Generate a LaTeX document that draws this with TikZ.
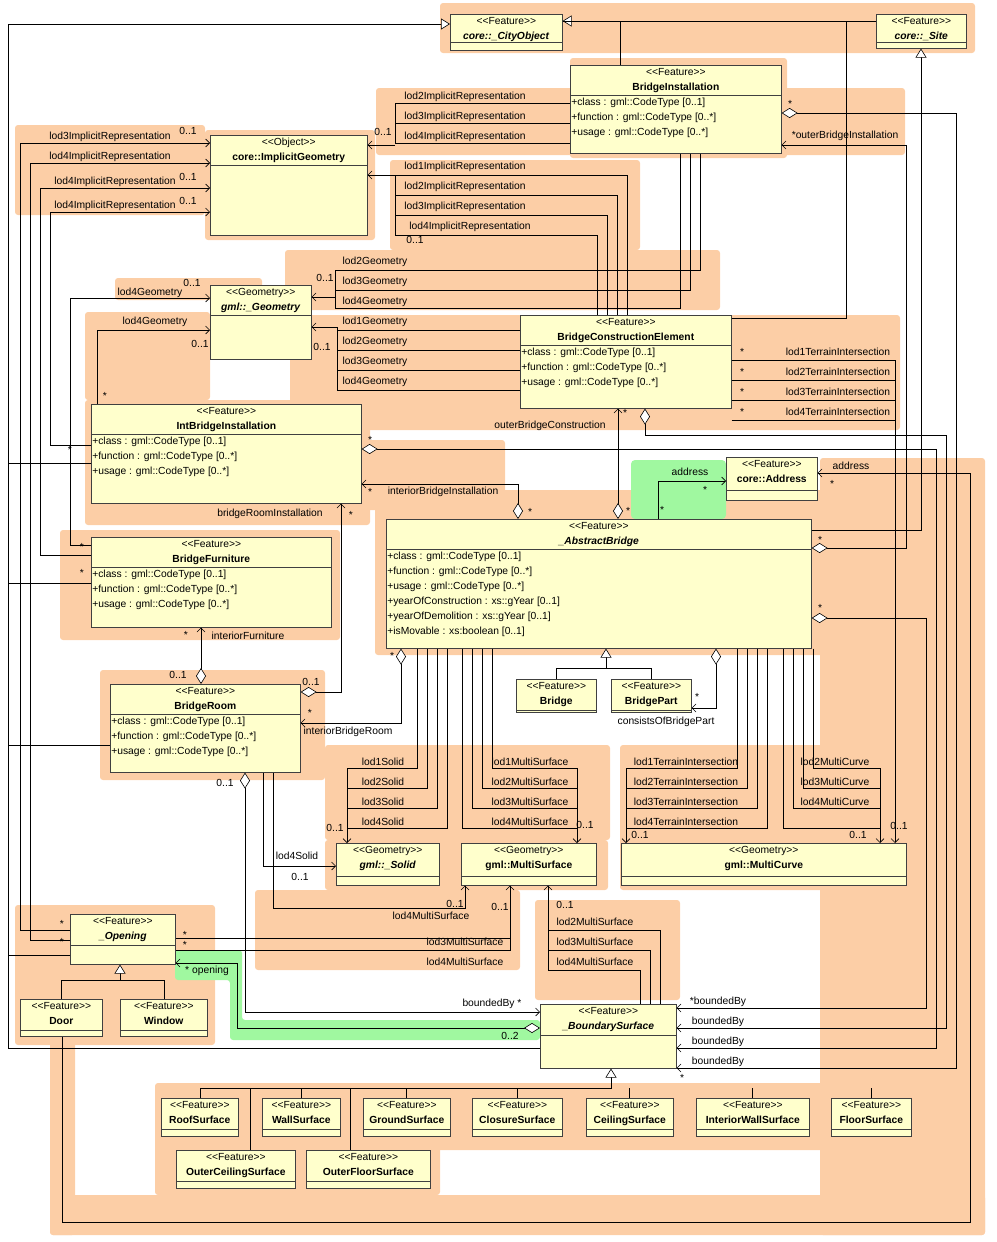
\documentclass[tikz,border=0pt]{standalone}
\usepackage{fontspec}
\setmainfont{Liberation Sans}
\usetikzlibrary{arrows.meta}
\definecolor{clsfill}{RGB}{255,255,204}
\definecolor{peach}{RGB}{252,206,166}
\definecolor{mint}{RGB}{160,248,160}
\tikzset{
  cls/.style={draw=black!75,fill=clsfill,inner sep=0pt},
  lbl/.style={font=\fontsize{10.3}{15}\selectfont,inner sep=1pt},
  nav/.style={-{Straight Barb[length=4pt,width=8pt]}},
  gen/.style={-{Triangle[open,fill=white,length=9pt,width=11pt]}},
  aggnav/.style={{Diamond[open,fill=white,length=16pt,width=10pt]}-{Straight Barb[length=4pt,width=8pt]}}
}
% box, stereotype, name and attribute lines of one class
\newcommand\umlclass[9]{%
  \node[cls,anchor=north west,minimum width=#4pt,minimum height=#5pt] (#1) at (#2,#3) {};
  \node[lbl,anchor=north,align=center] (#1-h) at ([yshift=-2pt]#1.north) {<{}<#7>{}>\\ \textbf{#8}};
  \draw[black!75] ([yshift=-#6pt]#1.north west) -- ([yshift=-#6pt]#1.north east);
  \node[lbl,anchor=north west,align=left] (#1-a) at ([yshift=-#6pt-2pt]#1.north west) {#9};
}
\begin{document}
\begin{tikzpicture}[x=1pt,y=-1pt,line width=0.6pt]
\useasboundingbox (0,0) rectangle (996,1242);
% coloured areas
\foreach \a/\b/\c/\d in {440/3/975/53,570/58/787/158,376/88/905/155,15/125/205/215,205/130/375/240,
  390/160/640/250,285/250/720/310,115/278/262/300,85/312/210/400,290/315/900/430,85/400/370/525,
  360/440/505/510,375/490/830/655,820/458/985/1235,50/1195/985/1235,50/1040/75/1235,60/530/340/640,
  100/670/325/780,325/745/610/840,620/745/910/890,325/840/608/890,255/890/520/970,535/900/680/1000,
  15/905/215/1045,155/1083/920/1150,155/1145/440/1195}
  \fill[peach,rounded corners=3pt] (\a,\b) rectangle (\c,\d);
\fill[mint,rounded corners=4pt] (631,460) rectangle (726,519);
\fill[mint,rounded corners=3pt] (175,950) -- (242,950) -- (242,1020) -- (540,1020) -- (540,1040) -- (230,1040) -- (230,980) -- (175,980) -- cycle;

\umlclass{CO}{450}{14}{112}{36}{28}{Feature}{\textit{core::\_CityObject}}{}
\umlclass{Site}{876}{14}{90}{34}{28}{Feature}{\textit{core::\_Site}}{}
\umlclass{BI}{570}{65}{211}{88}{30}{Feature}{BridgeInstallation}{+class : gml::CodeType [0..1]\\+function : gml::CodeType [0..*]\\+usage : gml::CodeType [0..*]}
\umlclass{IG}{210}{135}{157}{100}{30}{Object}{core::ImplicitGeometry}{}
\umlclass{Geo}{210}{285}{101}{74}{30}{Geometry}{\textit{gml::\_Geometry}}{}
\umlclass{BCE}{520}{315}{211}{93}{30}{Feature}{BridgeConstructionElement}{+class : gml::CodeType [0..1]\\+function : gml::CodeType [0..*]\\+usage : gml::CodeType [0..*]}
\umlclass{IBI}{91}{404}{270}{99}{30}{Feature}{IntBridgeInstallation}{+class : gml::CodeType [0..1]\\+function : gml::CodeType [0..*]\\+usage : gml::CodeType [0..*]}
\umlclass{Addr}{726}{457}{91}{43}{33}{Feature}{core::Address}{}
\umlclass{AB}{386}{519}{425}{129}{30}{Feature}{\textit{\_AbstractBridge}}{+class : gml::CodeType [0..1]\\+function : gml::CodeType [0..*]\\+usage : gml::CodeType [0..*]\\+yearOfConstruction : xs::gYear [0..1]\\+yearOfDemolition : xs::gYear [0..1]\\+isMovable : xs:boolean [0..1]}
\umlclass{BF}{91}{537}{240}{90}{30}{Feature}{BridgeFurniture}{+class : gml::CodeType [0..1]\\+function : gml::CodeType [0..*]\\+usage : gml::CodeType [0..*]}
\umlclass{Br}{516}{679}{80}{33}{31}{Feature}{Bridge}{}
\umlclass{BP}{611}{679}{80}{33}{31}{Feature}{BridgePart}{}
\umlclass{BR}{110}{684}{190}{88}{30}{Feature}{BridgeRoom}{+class : gml::CodeType [0..1]\\+function : gml::CodeType [0..*]\\+usage : gml::CodeType [0..*]}
\umlclass{Sol}{336}{843}{103}{42}{33}{Geometry}{\textit{gml::\_Solid}}{}
\umlclass{MS}{461}{843}{135}{42}{33}{Geometry}{gml::MultiSurface}{}
\umlclass{MC}{621}{843}{285}{42}{33}{Geometry}{gml::MultiCurve}{}
\umlclass{Op}{70}{914}{105}{50}{31}{Feature}{\textit{\_Opening}}{}
\umlclass{Door}{20}{999}{82}{37}{31}{Feature}{Door}{}
\umlclass{Win}{120}{999}{87}{37}{31}{Feature}{Window}{}
\umlclass{BS}{540}{1004}{136}{64}{31}{Feature}{\textit{\_BoundarySurface}}{}
\umlclass{Roof}{161}{1098}{77}{38}{31}{Feature}{RoofSurface}{}
\umlclass{Wall}{262}{1098}{78}{38}{31}{Feature}{WallSurface}{}
\umlclass{Ground}{363}{1098}{87}{38}{31}{Feature}{GroundSurface}{}
\umlclass{Clos}{472}{1098}{90}{38}{31}{Feature}{ClosureSurface}{}
\umlclass{Ceil}{586}{1098}{87}{38}{31}{Feature}{CeilingSurface}{}
\umlclass{IW}{696}{1098}{113}{38}{31}{Feature}{InteriorWallSurface}{}
\umlclass{Floor}{831}{1098}{80}{38}{31}{Feature}{FloorSurface}{}
\umlclass{OC}{176}{1150}{119}{38}{31}{Feature}{OuterCeilingSurface}{}
\umlclass{OF}{306}{1150}{124}{38}{31}{Feature}{OuterFloorSurface}{}

% generalizations
\draw[gen] (BI.north -| 620,0) -- (620,21) -- (CO.east |- 0,21);
\draw (Site.west |- 0,21) -- (CO.east |- 0,21);
\draw (BCE.east |- 0,318) -- (846,318) -- (846,21);
\draw[gen] (AB.east |- 0,530) -- (921,530) -- (Site.south -| 921,0);
\draw[gen] (BS.west |- 0,1048) -- (8,1048) -- (8,24) -- (CO.west |- 0,24);
\foreach \n/\y in {IBI/463,BF/583,BR/745,Op/955} \draw (\n.west |- 0,\y) -- (8,\y);
\draw[gen] (Br.north -| 556,0) -- (556,668) -- (606,668) -- (AB.south -| 606,0);
\draw (BP.north -| 651,0) -- (651,668) -- (606,668);
\draw[gen] (Door.north -| 61,0) -- (61,980) -- (120,980) -- (Op.south -| 120,0);
\draw (Win.north -| 164,0) -- (164,980) -- (120,980);
\draw[gen] (Roof.north -| 200,0) -- (200,1088) -- (611,1088) -- (BS.south -| 611,0);
\foreach \n/\x in {Wall/301,Ground/406,Clos/517,Ceil/629,IW/752,Floor/871,OC/250,OF/350}
  \draw (\n.north -| \x,0) -- (\x,1088);

% implicit representations
\foreach \y in {103,123} \draw (BI.west |- 0,\y) -- (395,\y);
\draw[nav] (BI.west |- 0,143) -- (395,143) -- (395,103) (395,145) -- (IG.east |- 0,145);
\foreach \x/\y in {627/175,617/195,607/215,597/235} \draw (BCE.north -| \x,0) -- (\x,\y) -- (395,\y);
\draw[nav] (395,235) -- (395,175) -- (IG.east |- 0,175);
\draw[nav] (Op.west |- 0,930) -- (20,930) -- (20,143) -- (IG.west |- 0,143);
\draw[nav] (Op.west |- 0,940) -- (30,940) -- (30,163) -- (IG.west |- 0,163);
\draw[nav] (BF.west |- 0,555) -- (40,555) -- (40,188) -- (IG.west |- 0,188);
\draw[nav] (IBI.west |- 0,445) -- (50,445) -- (50,212) -- (IG.west |- 0,212);
% geometries
\foreach \x/\y in {700/270,690/290,680/308} \draw (BI.south -| \x,0) -- (\x,\y) -- (335,\y);
\draw[nav] (335,270) -- (335,308) (335,297) -- (Geo.east |- 0,297);
\foreach \y in {330,350,370,390} \draw (BCE.west |- 0,\y) -- (337,\y);
\draw[nav] (337,390) -- (337,327) -- (Geo.east |- 0,327);
\draw[nav] (IBI.north -| 97,0) -- (97,330) -- (Geo.west |- 0,330);
\draw[nav] (BF.west |- 0,545) -- (70,545) -- (70,298) -- (Geo.west |- 0,298);
\foreach \x/\y in {417/768,427/788,437/808,447/828} \draw (AB.south -| \x,0) -- (\x,\y) -- (347,\y);
\draw[nav] (347,768) -- (Sol.north -| 347,0);
\foreach \x/\y in {492/768,482/788,472/808,462/828} \draw (AB.south -| \x,0) -- (\x,\y) -- (577,\y);
\draw[nav] (577,768) -- (MS.north -| 577,0);
\foreach \x/\y in {737/768,747/788,757/808,767/828} \draw (AB.south -| \x,0) -- (\x,\y) -- (626,\y);
\draw[nav] (626,768) -- (MC.north -| 626,0);
\foreach \x/\y in {813/768,803/788,793/808,783/828} \draw (AB.south -| \x,0) -- (\x,\y) -- (880,\y);
\draw[nav] (880,768) -- (MC.north -| 880,0);
\foreach \y in {360,380,400,420} \draw (BCE.east |- 0,\y) -- (895,\y);
\draw[nav] (895,360) -- (MC.north -| 895,0);
\draw[nav] (BR.south -| 263,0) -- (263,866) -- (Sol.west |- 0,866);
\draw[nav] (BR.south -| 273,0) -- (273,908) -- (465,908) -- (MS.south -| 465,0);
\draw (Op.east |- 0,938) -- (510,938);
\draw[nav] (Op.east |- 0,950) -- (510,950) -- (MS.south -| 510,0);
\foreach \x/\y in {660/930,650/950,640/970} \draw (BS.north -| \x,0) -- (\x,\y) -- (548,\y);
\draw[nav] (548,970) -- (MS.south -| 548,0);

% aggregations
\draw[aggnav] (AB.east |- 0,548) -- (906,548) -- (906,145) -- (BI.east |- 0,145);
\draw[aggnav] (BI.east |- 0,113) -- (956,113) -- (956,1068) -- (BS.east |- 0,1068);
\draw[aggnav] (IBI.east |- 0,449) -- (936,449) -- (936,1048) -- (BS.east |- 0,1048);
\draw[aggnav] (BCE.south -| 645,0) -- (645,435) -- (946,435) -- (946,1028) -- (BS.east |- 0,1028);
\draw[aggnav] (AB.east |- 0,618) -- (926,618) -- (926,1008) -- (BS.east |- 0,1008);
\draw[aggnav] (BR.south -| 245,0) -- (245,1012) -- (BS.west |- 0,1012);
\draw[aggnav] (BS.west |- 0,1028) -- (237,1028) -- (237,963) -- (Op.east |- 0,963);
\draw[aggnav] (AB.north -| 618,0) -- (BCE.south -| 618,0);
\draw[aggnav] (AB.north -| 518,0) -- (518,484) -- (IBI.east |- 0,484);
\draw[aggnav] (BR.east |- 0,692) -- (341,692) -- (IBI.south -| 341,0);
\draw[aggnav] (AB.south -| 401,0) -- (401,723) -- (BR.east |- 0,723);
\draw[aggnav] (BR.north -| 201,0) -- (BF.south -| 201,0);
\draw[aggnav] (AB.south -| 716,0) -- (716,708) -- (BP.east |- 0,708);
\draw[nav] (AB.north -| 658,0) -- (658,481) -- (Addr.west |- 0,481);
\draw[nav] (Door.south -| 62,0) -- (62,1222) -- (970,1222) -- (970,473) -- (Addr.east |- 0,473);

% role names and multiplicities
\foreach \x/\y/\t in {
  465/97/lod2ImplicitRepresentation,465/117/lod3ImplicitRepresentation,465/137/lod4ImplicitRepresentation,
  383/132/0..1,465/167/lod1ImplicitRepresentation,465/187/lod2ImplicitRepresentation,
  465/207/lod3ImplicitRepresentation,470/227/lod4ImplicitRepresentation,415/240/0..1,
  110/137/lod3ImplicitRepresentation,110/157/lod4ImplicitRepresentation,188/131/0..1,
  115/182/lod4ImplicitRepresentation,188/177/0..1,115/206/lod4ImplicitRepresentation,188/201/0..1,
  375/262/lod2Geometry,375/282/lod3Geometry,375/302/lod4Geometry,325/278/0..1,
  375/322/lod1Geometry,375/342/lod2Geometry,375/362/lod3Geometry,375/382/lod4Geometry,322/347/0..1,
  150/293/lod4Geometry,192/283/0..1,155/322/lod4Geometry,200/344/0..1,105/396/*,
  838/352/lod1TerrainIntersection,838/372/lod2TerrainIntersection,838/392/lod3TerrainIntersection,
  838/412/lod4TerrainIntersection,742/352/*,742/372/*,742/392/*,742/412/*,
  845/136/*outerBridgeInstallation,790/104/*,550/426/outerBridgeConstruction,625/413/*,628/511/*,
  443/492/interiorBridgeInstallation,370/492/*,530/512/*,270/514/bridgeRoomInstallation,351/515/*,
  311/682/0..1,348/732/interiorBridgeRoom,310/713/*,392/656/*,248/636/interiorFurniture,186/635/*,
  178/675/0..1,666/722/consistsOfBridgePart,697/697/*,690/472/address,705/490/*,662/510/*,
  851/466/address,832/484/*,820/540/*,820/608/*,370/440/*,
  383/762/lod1Solid,383/782/lod2Solid,383/802/lod3Solid,383/822/lod4Solid,335/828/0..1,
  530/762/lod1MultiSurface,530/782/lod2MultiSurface,530/802/lod3MultiSurface,530/822/lod4MultiSurface,585/825/0..1,
  686/762/lod1TerrainIntersection,686/782/lod2TerrainIntersection,686/802/lod3TerrainIntersection,
  686/822/lod4TerrainIntersection,640/835/0..1,835/762/lod2MultiCurve,835/782/lod3MultiCurve,
  835/802/lod4MultiCurve,858/835/0..1,899/826/0..1,
  297/856/lod4Solid,300/877/0..1,431/916/lod4MultiSurface,455/904/0..1,500/907/0..1,
  465/942/lod3MultiSurface,465/962/lod4MultiSurface,595/922/lod2MultiSurface,595/942/lod3MultiSurface,
  595/962/lod4MultiSurface,565/905/0..1,492/1004/boundedBy *,225/783/0..1,510/1036/0..2,
  207/971/* opening,718/1002/*boundedBy,718/1022/boundedBy,718/1042/boundedBy,718/1062/boundedBy,
  682/1078/*,62/924/*,62/942/*,185/935/*,185/945/*,82/547/*,82/573/*,70/450/*}
  \node[lbl] at (\x,\y) {\t};
\end{tikzpicture}
\end{document}
